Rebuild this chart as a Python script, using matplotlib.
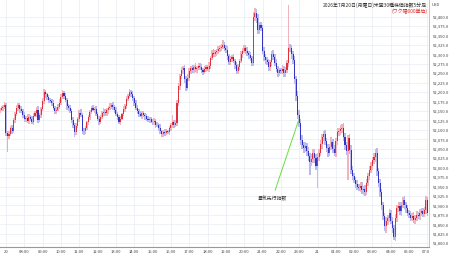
import matplotlib.pyplot as plt
import numpy as np
from matplotlib.transforms import Bbox, TransformedBbox

plt.rcParams['font.family'] = ['Noto Sans CJK JP', 'DejaVu Sans']

# 5-minute closes, 4 bars before 07:00, then one row per hour (06:00 hour is closed)
closes = [
    52153, 52158, 52162, 52166,
    52092, 52085, 52090, 52104, 52098, 52125, 52142, 52158, 52166, 52155, 52150, 52140,  # 07
    52128, 52132, 52124, 52135, 52130, 52122, 52138, 52144, 52153, 52126, 52140, 52155,  # 08
    52176, 52200, 52194, 52186, 52180, 52176, 52170, 52158, 52150, 52154, 52162, 52172,  # 09
    52188, 52198, 52190, 52180, 52163, 52158, 52150, 52125, 52112, 52094, 52110, 52128,  # 10
    52146, 52140, 52098, 52096, 52104, 52120, 52133, 52148, 52158, 52154, 52156, 52142,  # 11
    52130, 52122, 52134, 52145, 52148, 52144, 52152, 52158, 52162, 52166, 52160, 52152,  # 12
    52142, 52133, 52122, 52130, 52142, 52155, 52163, 52182, 52190, 52200, 52195, 52184,  # 13
    52172, 52158, 52150, 52142, 52138, 52144, 52140, 52136, 52130, 52126, 52128, 52122,  # 14
    52120, 52124, 52114, 52112, 52106, 52096, 52088, 52094, 52092, 52096, 52095, 52104,  # 15
    52112, 52120, 52114, 52118, 52170, 52215, 52242, 52258, 52264, 52236, 52212, 52238,  # 16
    52255, 52264, 52258, 52266, 52260, 52264, 52270, 52266, 52258, 52254, 52262, 52266,  # 17
    52262, 52270, 52290, 52304, 52300, 52306, 52308, 52314, 52316, 52320, 52326, 52318,  # 18
    52312, 52296, 52280, 52288, 52292, 52282, 52272, 52256, 52266, 52282, 52300, 52310,  # 19
    52318, 52310, 52304, 52298, 52290, 52278, 52398, 52410, 52396, 52364, 52378, 52370,  # 20
    52310, 52292, 52286, 52280, 52266, 52280, 52302, 52294, 52278, 52262, 52252, 52258,  # 21
    52256, 52262, 52250, 52258, 52276, 52318, 52316, 52300, 52284, 52234, 52190, 52140,  # 22
    52118, 52072, 52060, 52052, 52058, 52044, 52030, 52014, 52024, 52040, 52026, 52004,  # 23
    52028, 52040, 52062, 52080, 52088, 52070, 52052, 52040, 52056, 52068, 52050, 52040,  # 00
    52070, 52094, 52098, 52102, 52106, 52082, 52060, 52044, 52078, 52048, 51995, 51978,  # 01
    51968, 51958, 51950, 51946, 51952, 51940, 51944, 51936, 51960, 51978, 51994, 52005,  # 02
    52020, 52028, 52040, 51990, 51960, 51935, 51900, 51872, 51845, 51858, 51866, 51880,  # 03
    51860, 51840, 51816, 51866, 51892, 51898, 51884, 51902, 51914, 51900, 51892, 51880,  # 04
    51876, 51868, 51872, 51862, 51866, 51876, 51872, 51880, 51884, 51878, 51888, 51914,  # 05
    51880,  # 07
]
first_open = 52150

# wick length above / below the body
hi_ext = [
    5, 6, 4, 8,
    6, 5, 8, 6, 10, 7, 5, 9, 6, 4, 8, 6,
    7, 5, 9, 6, 4, 8, 6, 5, 7, 10, 6, 5,
    8, 9, 6, 5, 7, 4, 6, 8, 5, 7, 6, 9,
    6, 8, 5, 7, 4, 6, 9, 5, 8, 6, 7, 5,
    6, 9, 5, 8, 6, 4, 7, 6, 5, 8, 6, 7,
    5, 8, 6, 4, 9, 7, 5, 6, 8, 5, 7, 6,
    8, 5, 7, 6, 4, 9, 6, 7, 5, 8, 6, 7,
    5, 7, 8, 6, 9, 5, 7, 4, 6, 8, 5, 7,
    6, 8, 5, 7, 6, 9, 5, 6, 8, 7, 5, 6,
    7, 20, 6, 8, 10, 9, 7, 8, 6, 9, 7, 10,
    8, 6, 9, 7, 10, 6, 8, 7, 9, 6, 8, 7,
    6, 9, 7, 8, 10, 6, 7, 9, 8, 7, 12, 8,
    7, 9, 6, 8, 7, 10, 6, 8, 9, 7, 8, 6,
    8, 7, 9, 6, 8, 7, 14, 13, 10, 12, 9, 8,
    9, 10, 8, 7, 9, 6, 8, 10, 7, 9, 8, 6,
    7, 9, 6, 8, 10, 113, 9, 10, 8, 12, 10, 14,
    12, 10, 14, 9, 11, 8, 10, 9, 12, 10, 9, 11,
    10, 9, 12, 8, 10, 11, 9, 10, 8, 12, 9, 10,
    9, 11, 8, 10, 9, 12, 10, 9, 8, 11, 12, 10,
    9, 8, 10, 7, 9, 11, 8, 10, 9, 8, 10, 9,
    8, 10, 9, 12, 10, 11, 9, 10, 8, 12, 9, 10,
    9, 10, 8, 11, 9, 10, 12, 8, 9, 10, 8, 9,
    8, 9, 7, 10, 8, 9, 7, 10, 8, 9, 8, 10,
    8,
]
lo_ext = [
    5, 4, 7, 6,
    8, 43, 10, 7, 9, 6, 8, 5, 7, 9, 6, 8,
    6, 8, 5, 9, 7, 6, 8, 5, 9, 7, 6, 8,
    5, 7, 9, 6, 8, 5, 7, 6, 9, 8, 5, 6,
    7, 5, 8, 6, 9, 7, 5, 8, 6, 12, 7, 6,
    8, 6, 9, 10, 7, 5, 8, 6, 7, 5, 9, 6,
    7, 9, 6, 5, 8, 6, 7, 9, 5, 6, 8, 7,
    6, 8, 7, 9, 5, 6, 8, 7, 6, 5, 9, 7,
    8, 6, 9, 7, 5, 8, 6, 9, 7, 6, 8, 5,
    7, 6, 8, 5, 9, 7, 8, 6, 9, 5, 7, 8,
    6, 7, 9, 6, 8, 7, 10, 6, 9, 12, 8, 7,
    9, 7, 6, 8, 7, 9, 6, 8, 7, 9, 6, 8,
    7, 8, 9, 6, 8, 7, 9, 6, 8, 7, 6, 9,
    8, 10, 7, 9, 8, 6, 10, 9, 7, 8, 6, 9,
    7, 9, 8, 10, 7, 9, 8, 10, 12, 9, 11, 8,
    10, 9, 11, 8, 10, 9, 12, 8, 10, 9, 11, 8,
    9, 8, 10, 9, 8, 10, 9, 11, 10, 12, 14, 12,
    10, 12, 11, 14, 10, 12, 11, 33, 10, 12, 14, 10,
    57, 11, 10, 12, 9, 11, 10, 12, 10, 9, 12, 10,
    11, 10, 9, 12, 10, 11, 12, 10, 76, 11, 12, 10,
    9, 11, 10, 8, 10, 9, 11, 10, 9, 8, 10, 9,
    10, 9, 12, 11, 10, 12, 11, 10, 12, 18, 10, 11,
    10, 12, 7, 11, 9, 10, 8, 11, 9, 10, 12, 9,
    9, 10, 8, 9, 10, 8, 9, 10, 8, 9, 8, 10,
    9,
]

tick_pos = [0, 12, 24, 36, 48, 60, 72, 84, 96, 108, 120, 132, 144, 156, 168, 180, 192,
            204, 216, 228, 240, 252, 264, 276]
tick_lbl = ['20', '08:00', '09:00', '10:00', '11:00', '12:00', '13:00', '14:00', '15:00',
            '16:00', '17:00', '18:00', '19:00', '20:00', '21:00', '22:00', '23:00',
            '21', '01:00', '02:00', '03:00', '04:00', '05:00', '07:00']

c = np.array(closes, dtype=float)
o = np.concatenate([[first_open], c[:-1]])
top = np.maximum(o, c)
bot = np.minimum(o, c)
hi = top + np.array(hi_ext)
lo = bot - np.array(lo_ext)
x = np.arange(len(c)) - 4
up = c >= o

fig = plt.figure(figsize=(4.5, 2.58), dpi=100)
ax = fig.add_axes([0, 11 / 258, 429 / 450, 247 / 258])

ax.bar(x[up], hi[up] - lo[up], bottom=lo[up], width=1.0, color='#f2b3bd', linewidth=0)
ax.bar(x[~up], hi[~up] - lo[~up], bottom=lo[~up], width=1.0, color='#b9b9ee', linewidth=0)
ax.bar(x[up], np.maximum(top[up] - bot[up], 1.5), bottom=bot[up], width=0.7,
       color='#e0303c', linewidth=0)
ax.bar(x[~up], np.maximum(top[~up] - bot[~up], 1.5), bottom=bot[~up], width=0.7,
       color='#3333c4', linewidth=0)

ax.set_xlim(-3.9, 277)
ax.set_ylim(51790, 52444)
ax.set_yticks(np.arange(51800, 52401, 25))
ax.yaxis.set_major_formatter(plt.FuncFormatter(lambda v, p: f'{v:,.1f}'))
ax.yaxis.tick_right()
ax.set_xticks(tick_pos)
ax.set_xticklabels(tick_lbl)
ax.tick_params(axis='both', length=0, labelsize=3, colors='#444444', pad=2.5)
ax.grid(True, color='#e8edf3', linewidth=0.5)
ax.set_axisbelow(True)
for s in ['top', 'left']:
    ax.spines[s].set_visible(False)
ax.spines['bottom'].set_color('#999999')
ax.spines['bottom'].set_linewidth(0.8)
ax.spines['right'].set_color('#bbbbbb')
ax.spines['right'].set_linewidth(0.6)

# last label is cut by the price scale
clip = TransformedBbox(Bbox([[0, 0], [429 / 450, 1]]), fig.transFigure)
lab = ax.get_xticklabels()[-1]
lab.set_clip_box(clip)
lab.set_clip_on(True)

ax.annotate('景気先行指数', xy=(191.5, 52124), xytext=(174.5, 51919),
            fontsize=3.5, color='#333333', ha='center', va='center',
            arrowprops=dict(arrowstyle='-', color='#66dd44', lw=0.7, shrinkA=2, shrinkB=0))

fig.text(427 / 450, 1 - 5 / 258, '2026年7月20日(月曜日)米国30種株価指数5分足',
         fontsize=3.5, ha='right', va='center', color='#333333')
fig.text(427 / 450, 1 - 11.5 / 258, '(ワク幅600単位)',
         fontsize=3.5, ha='right', va='center', color='#e02020')
fig.text(432 / 450, 1 - 5 / 258, 'USD', fontsize=3, ha='left', va='center', color='#444444')

fig.savefig('out.png', dpi=100)
